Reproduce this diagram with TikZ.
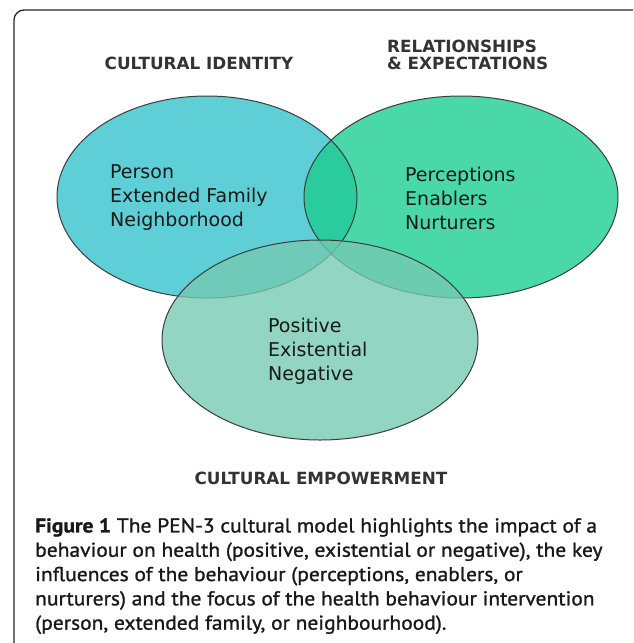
\documentclass[tikz,border=0pt]{standalone}
\usepackage{fontspec}
\setmainfont{DejaVu Sans}
\newfontfamily\captionfont[FakeStretch=1.075, FakeBold=1.2]{PT Sans}

\definecolor{identity}{HTML}{5ECFD6}
\definecolor{relation}{HTML}{4AD8A9}
\definecolor{bothtop}{HTML}{2ACB9C}
\definecolor{empower}{RGB}{117,201,178}
\definecolor{rimgray}{HTML}{3C3C3C}
\definecolor{headgray}{HTML}{333333}

\tikzset{
  rim/.style={draw=rimgray, line width=1pt},
  heading/.style={font=\bfseries\fontsize{16.8}{17.5}\selectfont, text=headgray, inner sep=0pt, align=left},
  listing/.style={font=\fontsize{19}{24}\selectfont, text=black!90, inner sep=0pt, align=left, anchor=west},
}

\begin{document}
\begin{tikzpicture}[x=1pt, y=-1pt]
        \useasboundingbox (0,0) rectangle (633,643);
        \clip (0,0) rectangle (633,643);

        % Frame round the figure
        \draw[line width=1.3pt, black!85, rounded corners=10pt] (14,660) -- (14,10) -- (650,10);

        % Top two circles
        \fill[identity] (207,197) ellipse [x radius=150, y radius=101]; % Cultural identity
        \fill[relation] (461,197) ellipse [x radius=157, y radius=101]; % Relationships
        \begin{scope}
          \clip (207,197) ellipse [x radius=150, y radius=101];
          \fill[bothtop] (461,197) ellipse [x radius=157, y radius=101];
        \end{scope}
        \draw[rim] (207,197) ellipse [x radius=150, y radius=101];
        \draw[rim] (461,197) ellipse [x radius=157, y radius=101];

        % Bottom circle, see-through
        \fill[empower, fill opacity=0.78] (320,340) ellipse [x radius=158, y radius=100]; % Empowerment
        \draw[rim] (320,340) ellipse [x radius=158, y radius=100];

        % Headings
        \node[heading] (identity) at (199,63) {CULTURAL IDENTITY};
        \node[heading, anchor=west] (relations) at (387,55) {RELATIONSHIPS\\\& EXPECTATIONS};
        \node[heading] (empowerment) at (321,478) {CULTURAL EMPOWERMENT};

        % Lists inside the circles
        \node[listing] (person) at (110,198) {Person\\Extended Family\\Neighborhood};
        \node[listing] (perception) at (405,198) {Perceptions\\Enablers\\Nurturers};
        \node[listing] (positive) at (268,351) {Positive\\Existential\\Negative};

        % Caption
        \node[anchor=north west, inner sep=0pt, align=left, text=black!90,
              font=\captionfont\fontsize{20}{24.3}\selectfont] (caption) at (35,518)
          {\textbf{Figure 1} The PEN-3 cultural model highlights the impact of a\\
           behaviour on health (positive, existential or negative), the key\\
           influences of the behaviour (perceptions, enablers, or\\
           nurturers) and the focus of the health behaviour intervention\\
           (person, extended family, or neighbourhood).};

\end{tikzpicture}
\end{document}
